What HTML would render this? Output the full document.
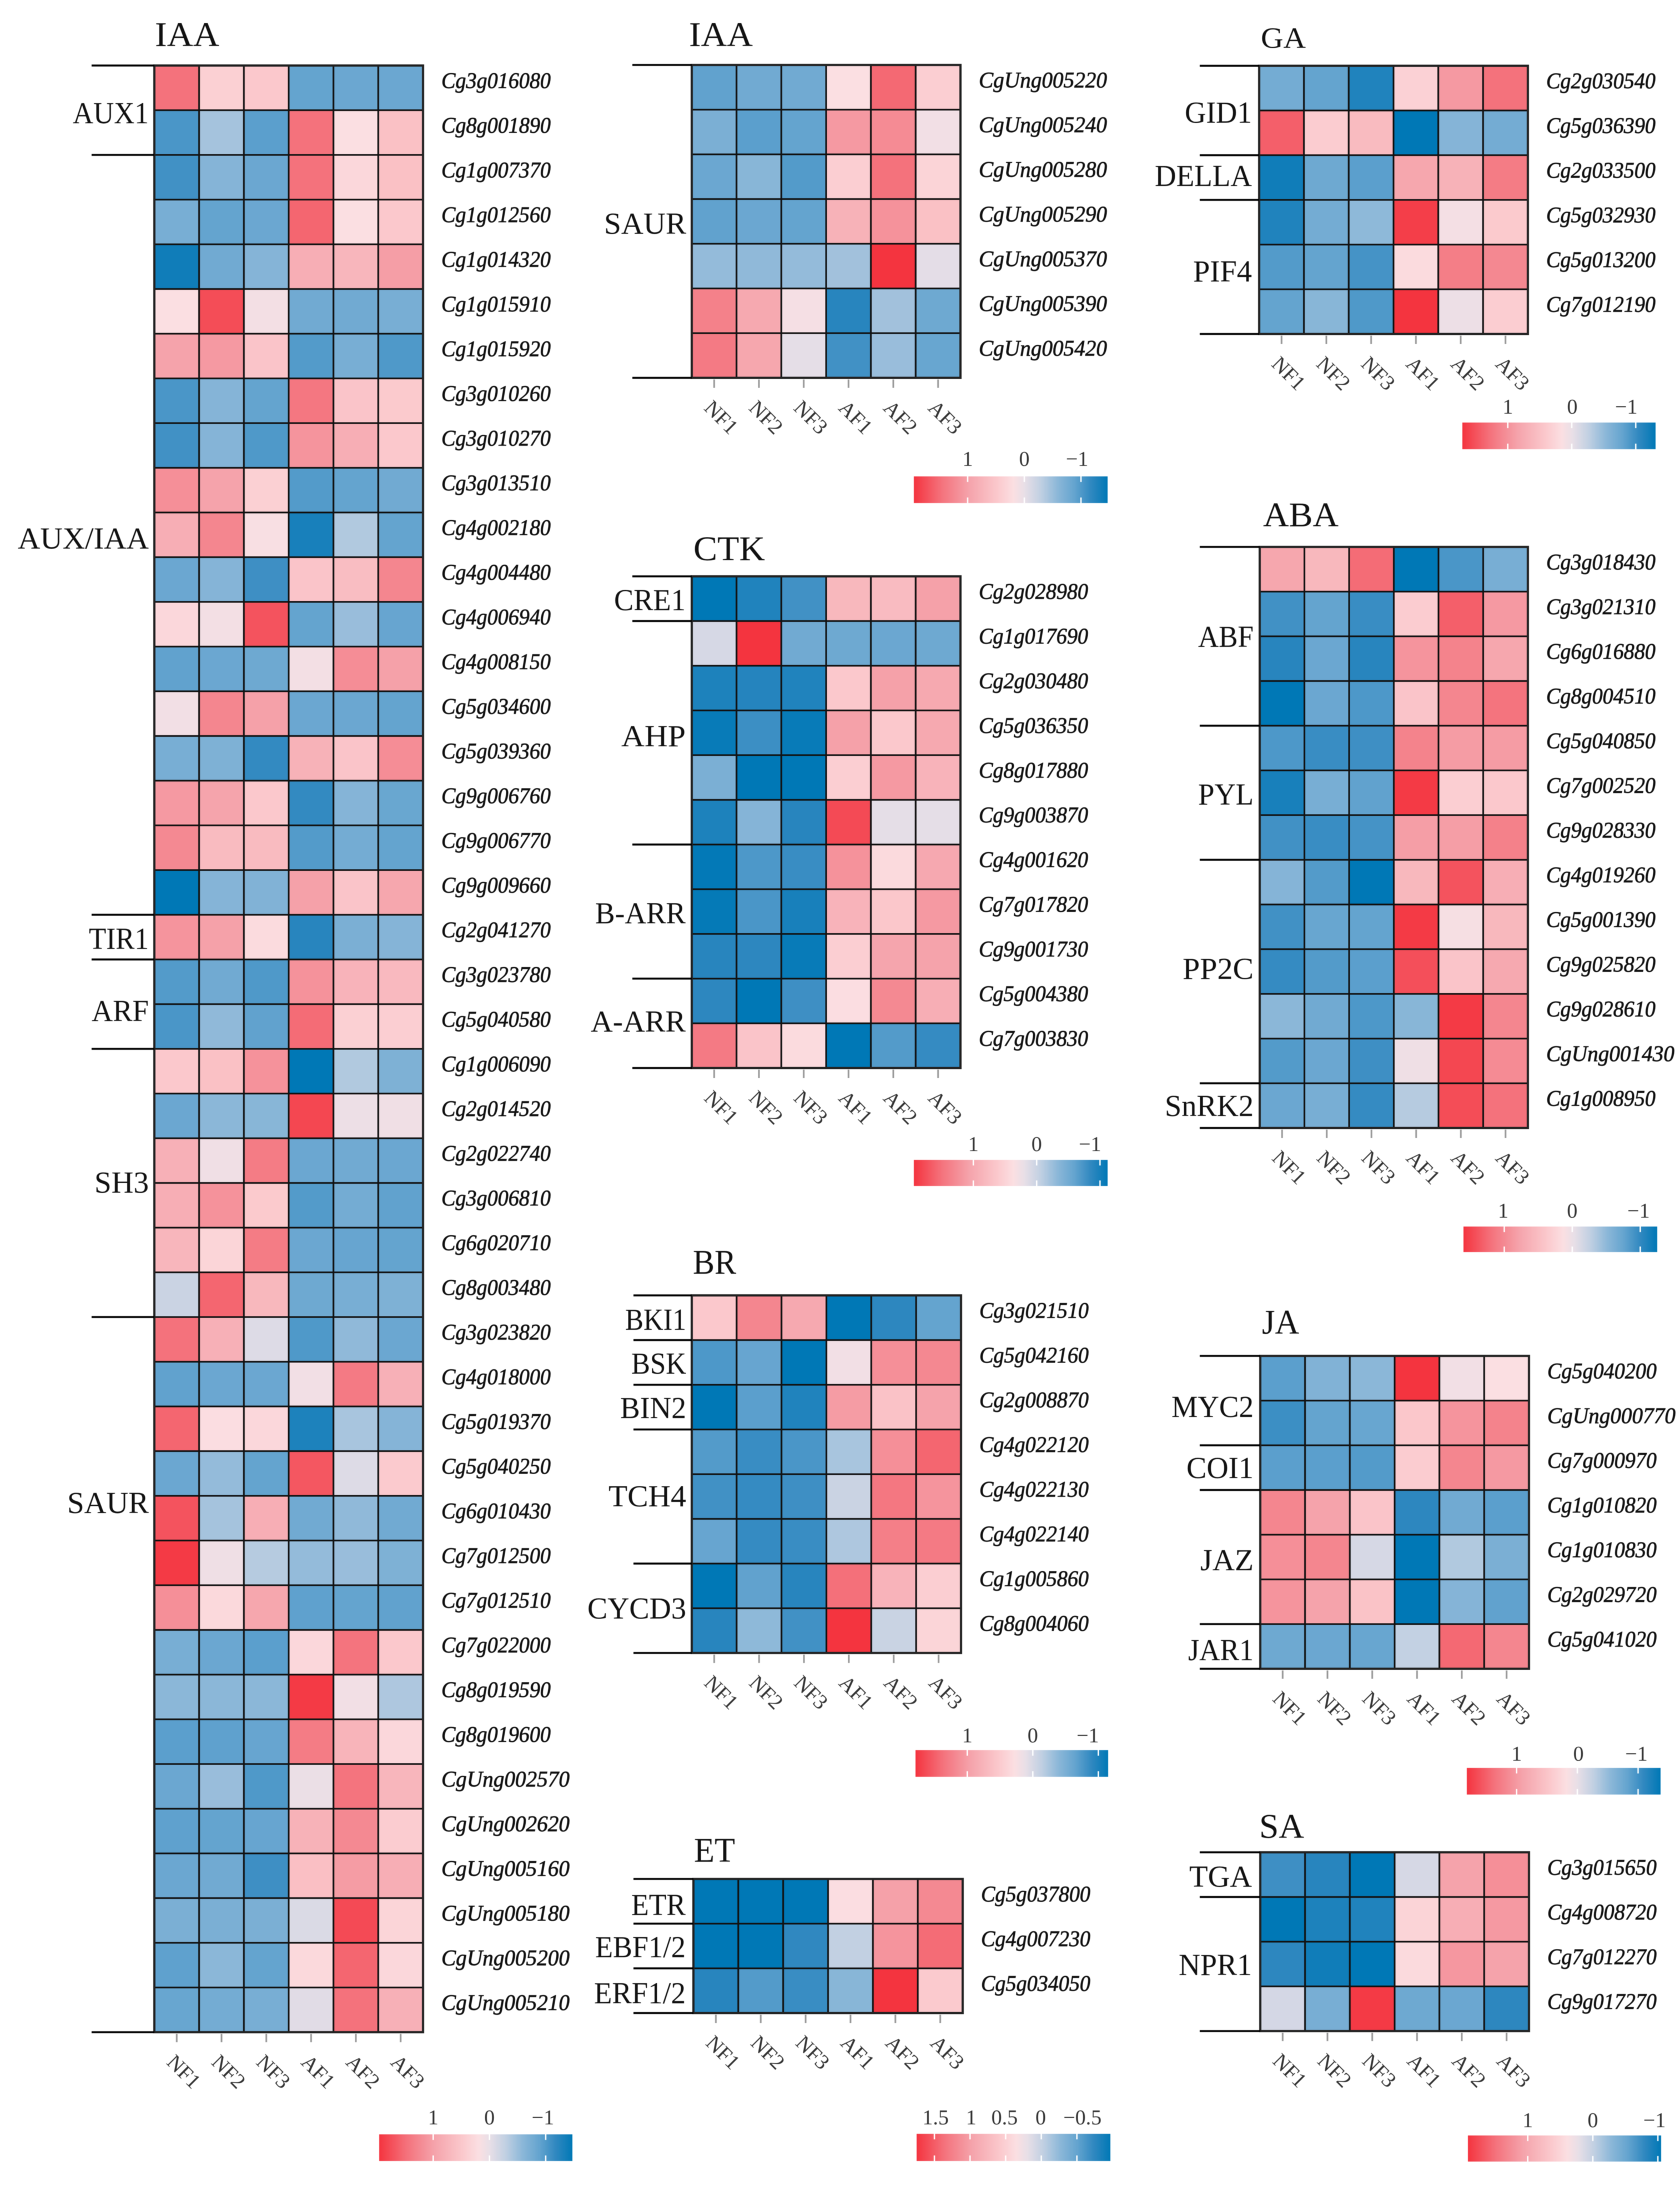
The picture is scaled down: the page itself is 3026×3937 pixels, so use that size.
<!DOCTYPE html>
<html lang="en">
<head>
<meta charset="utf-8">
<title>Hormone signalling gene expression heatmaps</title>
<style>
html,body{margin:0;padding:0;background:#fff;}
#figure{display:block;width:3026px;height:3937px;filter:blur(0.6px);}
text{font-family:"Liberation Serif",serif;}
.gene{font-style:italic;font-size:40px;fill:#111;stroke:#111;stroke-width:.75px;}
.title{fill:#111;}
.group{font-size:55px;fill:#111;}
.sample{font-size:38px;fill:#333;}
.legend-label{font-size:38px;fill:#333;text-anchor:middle;}
</style>
</head>
<body>
<svg id="figure" xmlns="http://www.w3.org/2000/svg" width="3026" height="3937" viewBox="0 0 3026 3937">
  <defs>
    <linearGradient id="legendGradient"></linearGradient>
  </defs>
  <rect width="3026" height="3937" fill="#fff"></rect>
</svg>
<script>
// ---- shared categories ----
const sampleLabels = ['NF1','NF2','NF3','AF1','AF2','AF3'];

// ---- IAA (left column) ----
const iaaMainGenes = ['Cg3g016080','Cg8g001890','Cg1g007370','Cg1g012560','Cg1g014320','Cg1g015910','Cg1g015920','Cg3g010260','Cg3g010270','Cg3g013510','Cg4g002180','Cg4g004480','Cg4g006940','Cg4g008150','Cg5g034600','Cg5g039360','Cg9g006760','Cg9g006770','Cg9g009660','Cg2g041270','Cg3g023780','Cg5g040580','Cg1g006090','Cg2g014520','Cg2g022740','Cg3g006810','Cg6g020710','Cg8g003480','Cg3g023820','Cg4g018000','Cg5g019370','Cg5g040250','Cg6g010430','Cg7g012500','Cg7g012510','Cg7g022000','Cg8g019590','Cg8g019600','CgUng002570','CgUng002620','CgUng005160','CgUng005180','CgUng005200','CgUng005210'];
const iaaMainValues = [
[1.5,.4,.5,-.9,-.85,-.85],
[-1.05,-.45,-.95,1.5,.2,.6],
[-1.1,-.65,-.85,1.5,.3,.6],
[-.75,-.9,-.85,1.6,.2,.5],
[-1.4,-.8,-.65,.85,.75,1.05],
[.2,1.8,.12,-.8,-.8,-.75],
[1,1.1,.55,-1,-.75,-1.02],
[-1.05,-.65,-.9,1.45,.55,.48],
[-1.1,-.65,-1.02,1.15,.85,.5],
[1.2,1,.4,-1,-.9,-.8],
[.85,1.3,.17,-1.35,-.38,-.9],
[-.85,-.65,-1.12,.55,.65,1.3],
[.3,.12,1.75,-.9,-.52,-.88],
[-.92,-.85,-.82,.12,1.22,1.02],
[.1,1.3,1.02,-.85,-.85,-.9],
[-.75,-.7,-1.18,.8,.55,1.22],
[1.1,.98,.5,-1.18,-.65,-.86],
[1.27,.68,.68,-1,-.78,-.9],
[-1.5,-.65,-.68,1.02,.55,.95],
[1.15,1.02,.25,-1.25,-.72,-.65],
[-1,-.8,-1.02,1.17,.78,.7],
[-1.05,-.57,-.92,1.55,.4,.42],
[.5,.6,1.17,-1.5,-.38,-.7],
[-.85,-.6,-.62,1.85,.05,.08],
[.82,.08,1.4,-.85,-.8,-.85],
[.85,1.17,.48,-1,-.78,-.92],
[.75,.33,1.4,-.85,-.88,-.9],
[-.22,1.6,.72,-.82,-.75,-.7],
[1.5,.82,-.08,-1.02,-.57,-.85],
[-.92,-.85,-.85,.1,1.42,.82],
[1.6,.22,.3,-1.32,-.43,-.65],
[-.85,-.55,-.9,1.72,-.08,.47],
[1.75,-.45,.85,-.8,-.57,-.8],
[1.95,.07,-.35,-.55,-.52,-.7],
[1.2,.28,.95,-.93,-.9,-.92],
[-.75,-.85,-.95,.3,1.48,.5],
[-.6,-.6,-.6,1.95,.1,-.4],
[-.95,-.93,-.88,1.4,.77,.3],
[-.85,-.52,-1.02,.03,1.48,.75],
[-.93,-.9,-.88,.8,1.27,.45],
[-.85,-.8,-1.12,.62,1.07,.85],
[-.72,-.72,-.72,-.1,1.82,.33],
[-.93,-.6,-.9,.28,1.6,.3],
[-.87,-.78,-.75,-.05,1.5,.82]
];
const iaaMainGroups = ['AUX1','AUX/IAA','TIR1','ARF','SH3','SAUR'];
const iaaMainRuleRows = [0,2,19,20,22,28,44];
const iaaMainTicks = [1,0,-1];
const iaaMainTickLabels = ['1','0','\u22121'];

// ---- IAA (SAUR continuation) ----
const iaaSaurGenes = ['CgUng005220','CgUng005240','CgUng005280','CgUng005290','CgUng005370','CgUng005390','CgUng005420'];
const iaaSaurValues = [
[-.92,-.8,-.8,.2,1.57,.42],
[-.72,-.95,-.9,1.1,1.25,.1],
[-.85,-.62,-1,.42,1.5,.35],
[-.92,-.85,-.9,.8,1.17,.6],
[-.55,-.57,-.55,-.47,2,-.03],
[1.35,.92,.14,-1.25,-.47,-.82],
[1.42,.95,-.02,-1.1,-.52,-.87]
];
const iaaSaurGroups = ['SAUR'];
const iaaSaurRuleRows = [0,7];
const iaaSaurTicks = [1,0,-1];
const iaaSaurTickLabels = ['1','0','\u22121'];

// ---- CTK ----
const ctkGenes = ['Cg2g028980','Cg1g017690','Cg2g030480','Cg5g036350','Cg8g017880','Cg9g003870','Cg4g001620','Cg7g017820','Cg9g001730','Cg5g004380','Cg7g003830'];
const ctkValues = [
[-1.5,-1.3,-1.1,.72,.67,1.02],
[-.13,2,-.8,-.82,-.85,-.82],
[-1.32,-1.27,-1.3,.5,1.02,.92],
[-1.45,-1.13,-1.45,1.02,.5,.92],
[-.72,-1.5,-1.5,.42,1.1,.78],
[-1.32,-.65,-1.25,1.82,-.02,-.02],
[-1.48,-1.03,-1.15,1.17,.27,.93],
[-1.47,-1.05,-1.35,.78,.52,1.1],
[-1.25,-1.22,-1.45,.42,.97,1],
[-1.22,-1.5,-1.12,.22,1.27,.85],
[1.42,.55,.25,-1.5,-1,-1.17]
];
const ctkGroups = ['CRE1','AHP','B-ARR','A-ARR'];
const ctkRuleRows = [0,1,6,9,11];
const ctkTicks = [1,0,-1];
const ctkTickLabels = ['1','0','\u22121'];

// ---- BR ----
const brGenes = ['Cg3g021510','Cg5g042160','Cg2g008870','Cg4g022120','Cg4g022130','Cg4g022140','Cg1g005860','Cg8g004060'];
const brValues = [
[.5,1.3,.92,-1.5,-1.22,-.9],
[-1.03,-.88,-1.5,.1,1.2,1.28],
[-1.5,-.95,-1.3,1.07,.58,1],
[-1,-1.15,-1.05,-.43,1.2,1.6],
[-1.1,-1.17,-1.12,-.22,1.45,1.15],
[-.88,-1.17,-1.15,-.4,1.37,1.42],
[-1.5,-.92,-1.25,1.52,.78,.42],
[-1.25,-.58,-1.1,2,-.23,.33]
];
const brGroups = ['BKI1','BSK','BIN2','TCH4','CYCD3'];
const brRuleRows = [0,1,2,3,6,8];
const brTicks = [1,0,-1];
const brTickLabels = ['1','0','\u22121'];

// ---- ET ----
const etGenes = ['Cg5g037800','Cg4g007230','Cg5g034050'];
const etValues = [
[-1.5,-1.5,-1.5,.22,1.02,1.27],
[-1.5,-1.5,-1.2,-.28,1.15,1.55],
[-1.25,-1,-1.15,-.62,2,.47]
];
const etGroups = ['ETR','EBF1/2','ERF1/2'];
const etRuleRows = [0,1,2,3];
const etTicks = [1.5,1,.5,0,-.5];
const etTickLabels = ['1.5','1','0.5','0','\u22120.5'];

// ---- GA ----
const gaGenes = ['Cg2g030540','Cg5g036390','Cg2g033500','Cg5g032930','Cg5g013200','Cg7g012190'];
const gaValues = [
[-.78,-.9,-1.3,.38,1.1,1.5],
[1.65,.45,.68,-1.5,-.65,-.78],
[-1.4,-.82,-.95,.95,.8,1.4],
[-1.3,-.78,-.58,1.92,.13,.48],
[-1,-.9,-1.08,.25,1.38,1.28],
[-.9,-.62,-1.02,2,.05,.43]
];
const gaGroups = ['GID1','DELLA','PIF4'];
const gaRuleRows = [0,2,3,6];
const gaTicks = [1,0,-1];
const gaTickLabels = ['1','0','\u22121'];

// ---- ABA ----
const abaGenes = ['Cg3g018430','Cg3g021310','Cg6g016880','Cg8g004510','Cg5g040850','Cg7g002520','Cg9g028330','Cg4g019260','Cg5g001390','Cg9g025820','Cg9g028610','CgUng001430','Cg1g008950'];
const abaValues = [
[.95,.72,1.55,-1.5,-1.05,-.75],
[-1.1,-.9,-1.15,.45,1.65,1.1],
[-1.25,-.85,-1.25,1.15,1.33,.95],
[-1.5,-.85,-1.03,.55,1.3,1.48],
[-1.03,-1.15,-1.12,1.33,1.07,1.07],
[-1.35,-.75,-.92,1.95,.42,.5],
[-1.1,-1.15,-1.08,1.05,1.05,1.35],
[-.65,-1,-1.5,.72,1.75,.85],
[-1.1,-.87,-.9,1.95,.15,.72],
[-1.17,-1,-.95,1.78,.55,.92],
[-.6,-.8,-1.03,-.62,1.95,1.3],
[-1,-.85,-1.12,.07,1.85,1.25],
[-.85,-.75,-1.17,-.35,1.8,1.5]
];
const abaGroups = ['ABF','PYL','PP2C','SnRK2'];
const abaRuleRows = [0,4,7,12,13];
const abaTicks = [1,0,-1];
const abaTickLabels = ['1','0','\u22121'];

// ---- JA ----
const jaGenes = ['Cg5g040200','CgUng000770','Cg7g000970','Cg1g010820','Cg1g010830','Cg2g029720','Cg5g041020'];
const jaValues = [
[-.95,-.68,-.6,2,.1,.2],
[-1.13,-.9,-.87,.52,1.15,1.33],
[-.95,-.95,-1,.45,1.3,1.1],
[1.3,1,.55,-1.22,-.8,-.95],
[1.2,1.3,-.13,-1.5,-.38,-.72],
[1.15,1,.57,-1.5,-.65,-.92],
[-.82,-.85,-.87,-.27,1.57,1.3]
];
const jaGroups = ['MYC2','COI1','JAZ','JAR1'];
const jaRuleRows = [0,2,3,6,7];
const jaTicks = [1,0,-1];
const jaTickLabels = ['1','0','\u22121'];

// ---- SA ----
const saGenes = ['Cg3g015650','Cg4g008720','Cg7g012270','Cg9g017270'];
const saValues = [
[-1.12,-1.25,-1.5,-.13,1,1.2],
[-1.5,-1.32,-1.3,.35,.85,1.1],
[-1.22,-1.4,-1.5,.27,1.12,1],
[-.15,-.75,1.95,-.82,-.85,-1.22]
];
const saGroups = ['TGA','NPR1'];
const saRuleRows = [0,1,4];
const saTicks = [1,0,-1];
const saTickLabels = ['1','0','\u22121'];

// ---- colour scale (value -> colour) ----
const colorDomain = [2,1.5,1,.5,.2,0,-.3,-.6,-.9,-1.2,-1.5];
const colorRange = ['#f4343f','#f4727c','#f5a3ab','#fbc8cc','#fbdfe2','#e8dfe7','#bfcfe2','#8bb7d8','#64a4cf','#3088c0','#0078b6'];

function hexToRgb(h){
  return [parseInt(h.slice(1,3),16),parseInt(h.slice(3,5),16),parseInt(h.slice(5,7),16)];
}
function colorScale(v){
  const d = colorDomain;
  if(v >= d[0]) return colorRange[0];
  if(v <= d[d.length-1]) return colorRange[d.length-1];
  for(let i=0;i<d.length-1;i++){
    if(v <= d[i] && v >= d[i+1]){
      const t = (d[i]-v)/(d[i]-d[i+1]);
      const a = hexToRgb(colorRange[i]), b = hexToRgb(colorRange[i+1]);
      return 'rgb('+a.map((c,k)=>Math.round(c+(b[k]-c)*t)).join(',')+')';
    }
  }
  return '#fff';
}

// ---- panel layout (frame geometry only; data comes from the arrays above) ----
const panels = [
 {key:'iaa-main',title:'IAA',genes:iaaMainGenes,values:iaaMainValues,groups:iaaMainGroups,rules:iaaMainRuleRows,ticks:iaaMainTicks,tickLabels:iaaMainTickLabels,
  left:278,right:762,top:118,ruleLeft:165,titleX:279,titleY:83,titleW:116,titleSize:62,
  groupRight:268,groupY:[222,988,1709,1839,2148,2725],groupW:[137,236,108,103,98,147],
  bar:{x:683,w:348,y:3844,h:48,labelY:3826,max:1.96,min:-1.475},labelDx:[0,0,-5]},
 {key:'iaa-saur',title:'IAA',genes:iaaSaurGenes,values:iaaSaurValues,groups:iaaSaurGroups,rules:iaaSaurRuleRows,ticks:iaaSaurTicks,tickLabels:iaaSaurTickLabels,
  left:1246,right:1730,top:117,ruleLeft:1139,titleX:1241,titleY:83,titleW:115,titleSize:62,
  groupRight:1236,groupY:[421],groupW:[148],
  bar:{x:1646,w:349,y:858,h:48,labelY:839,max:1.95,min:-1.47},labelDx:[0,0,-7]},
 {key:'ctk',title:'CTK',genes:ctkGenes,values:ctkValues,groups:ctkGroups,rules:ctkRuleRows,ticks:ctkTicks,tickLabels:ctkTickLabels,
  left:1246,right:1730,top:1038,ruleLeft:1139,titleX:1249,titleY:1009,titleW:129,titleSize:62,
  groupRight:1235,groupY:[1099,1344,1663,1858],groupW:[129,116,163,171],
  bar:{x:1646,w:349,y:2089,h:47,labelY:2073,max:1.94,min:-1.12},labelDx:[0,0,-18]},
 {key:'br',title:'BR',genes:brGenes,values:brValues,groups:brGroups,rules:brRuleRows,ticks:brTicks,tickLabels:brTickLabels,
  left:1246,right:1731,top:2333,ruleLeft:1141,titleX:1248,titleY:2294,titleW:78,titleSize:62,
  groupRight:1236,groupY:[2395,2474,2554,2713,2915],groupW:[110,99,119,140,178],
  bar:{x:1649,w:347,y:3152,h:48,labelY:3138,max:1.79,min:-1.15},labelDx:[0,0,-19]},
 {key:'et',title:'ET',genes:etGenes,values:etValues,groups:etGroups,rules:etRuleRows,ticks:etTicks,tickLabels:etTickLabels,
  left:1249,right:1734,top:3384,ruleLeft:1141,titleX:1250,titleY:3353,titleW:74,titleSize:62,
  groupRight:1235,groupY:[3449,3525,3608],groupW:[98,163,165],
  bar:{x:1651,w:349,y:3843,h:49,labelY:3826,max:1.75,min:-.97},labelDx:[2,2,-2,-1,10]},
 {key:'ga',title:'GA',genes:gaGenes,values:gaValues,groups:gaGroups,rules:gaRuleRows,ticks:gaTicks,tickLabels:gaTickLabels,
  left:2268,right:2752,top:118.5,ruleLeft:2161,titleX:2271,titleY:86,titleW:81,titleSize:53,
  groupRight:2255,groupY:[221,335,507],groupW:[121,175,106],
  bar:{x:2634,w:348,y:761,h:48,labelY:745,max:1.71,min:-1.31},labelDx:[0,1,-17]},
 {key:'aba',title:'ABA',genes:abaGenes,values:abaValues,groups:abaGroups,rules:abaRuleRows,ticks:abaTicks,tickLabels:abaTickLabels,
  left:2269,right:2752,top:985,ruleLeft:2161,titleX:2275,titleY:948,titleW:136,titleSize:62,
  groupRight:2258,groupY:[1165,1449,1763,2010],groupW:[100,100,128,160],
  bar:{x:2636,w:349,y:2209,h:46,labelY:2193,max:1.6,min:-1.25},labelDx:[-2,0,-3]},
 {key:'ja',title:'JA',genes:jaGenes,values:jaValues,groups:jaGroups,rules:jaRuleRows,ticks:jaTicks,tickLabels:jaTickLabels,
  left:2270,right:2754,top:2442,ruleLeft:2161,titleX:2273,titleY:2402,titleW:67,titleSize:62,
  groupRight:2258,groupY:[2552,2662,2828,2990],groupW:[148,121,96,118],
  bar:{x:2642,w:349,y:3184,h:48,labelY:3171,max:1.82,min:-1.37},labelDx:[0,2,-3]},
 {key:'sa',title:'SA',genes:saGenes,values:saValues,groups:saGroups,rules:saRuleRows,ticks:saTicks,tickLabels:saTickLabels,
  left:2270,right:2754,top:3336,ruleLeft:2161,titleX:2268,titleY:3310,titleW:81,titleSize:62,
  groupRight:2255,groupY:[3398,3557],groupW:[113,132],
  bar:{x:2644,w:348,y:3846,h:47,labelY:3831,max:1.92,min:-1.05},labelDx:[0,0,-6]}
];

const ROW_HEIGHT = 80.5;
const NS = 'http://www.w3.org/2000/svg';
const root = document.getElementById('figure');

function make(tag, attrs, parent){
  const node = document.createElementNS(NS, tag);
  for(const k in attrs){ node.setAttribute(k, attrs[k]); }
  parent.appendChild(node);
  return node;
}

// legend gradient stops generated from the colour scale
const gradient = document.getElementById('legendGradient');
for(const v of colorDomain){
  const stop = make('stop', {offset:((2-v)/3.5), 'stop-color':colorScale(v)}, gradient);
  
  
}

panels.forEach(function(p){
  const cellW = (p.right - p.left)/sampleLabels.length;
  const xScale = function(i){ return p.left + i*cellW; };
  const yScale = function(r){ return p.top + r*ROW_HEIGHT; };
  const bottom = yScale(p.genes.length);

  const g = make('g', {}, root);
  
  

  const title = make('text', {class:'title', x:p.titleX, y:p.titleY, 'font-size':p.titleSize, textLength:p.titleW, lengthAdjust:'spacingAndGlyphs'}, g);
  title.textContent = p.title;
  
  

  // heatmap cells
  p.values.forEach(function(row, r){
    row.forEach(function(v, c){
      const cell = make('rect', {x:xScale(c), y:yScale(r), width:cellW, height:ROW_HEIGHT, fill:colorScale(v), stroke:'#111', 'stroke-width':3}, g);
      
      
    });
  });

  const frame = make('rect', {x:p.left, y:p.top, width:p.right-p.left, height:bottom-p.top, fill:'none', stroke:'#222', 'stroke-width':4}, g);
  
  

  // gene labels
  p.genes.forEach(function(name, r){
    const label = make('text', {class:'gene', x:p.right+33, y:yScale(r)+ROW_HEIGHT/2, textLength:name.indexOf('Ung')>0?231:197, lengthAdjust:'spacingAndGlyphs'}, g);
    label.textContent = name;
    
    
  });

  // group separator rules
  p.rules.forEach(function(r){
    const rule = make('line', {x1:p.ruleLeft, x2:p.left, y1:yScale(r), y2:yScale(r), stroke:'#000', 'stroke-width':3.5}, g);
    
    
  });

  // group labels
  p.groups.forEach(function(name, i){
    const gl = make('text', {class:'group', x:p.groupRight, y:p.groupY[i], 'text-anchor':'end', textLength:p.groupW[i], lengthAdjust:'spacingAndGlyphs'}, g);
    gl.textContent = name;
    
    
  });

  // x axis ticks and sample labels
  sampleLabels.forEach(function(name, i){
    const cx = xScale(i) + cellW/2;
    const tick = make('line', {x1:cx, x2:cx, y1:bottom+3, y2:bottom+18, stroke:'#999', 'stroke-width':3}, g);
    
    
    const lx = cx - 20, ly = bottom + 56;
    const sl = make('text', {class:'sample', x:lx, y:ly, transform:'rotate(45 '+lx+' '+ly+')'}, g);
    sl.textContent = name;
    
    
  });

  // colour legend
  const b = p.bar;
  const barX = function(v){ return b.x + (b.max - v)/(b.max - b.min)*b.w; };
  const bar = make('rect', {x:b.x, y:b.y, width:b.w, height:b.h, fill:'url(#legendGradient)'}, g);
  
  
  p.ticks.forEach(function(v, i){
    const tx = barX(v);
    const t1 = make('line', {x1:tx, x2:tx, y1:b.y, y2:b.y+10, stroke:'#fff', 'stroke-width':2.5}, g);
    
    
    const t2 = make('line', {x1:tx, x2:tx, y1:b.y+b.h-10, y2:b.y+b.h, stroke:'#fff', 'stroke-width':2.5}, g);
    
    
    const tl = make('text', {class:'legend-label', x:tx+(p.labelDx[i]||0), y:b.labelY}, g);
    tl.textContent = p.tickLabels[i];
    
    
  });
});
</script>
</body>
</html>
